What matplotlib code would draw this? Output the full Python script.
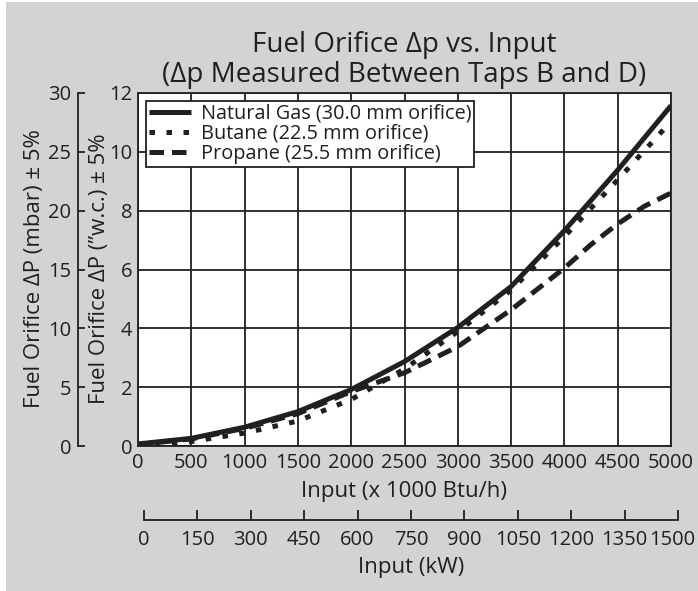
import matplotlib
matplotlib.use("Agg")
import matplotlib.pyplot as plt
from matplotlib.patches import Rectangle
from matplotlib.transforms import ScaledTranslation

# ---- data ----
input_kbtu = [0, 500, 1000, 1500, 2000, 2500, 3000, 3500, 4000, 4500, 5000]
natural_gas = [0.07, 0.26, 0.64, 1.17, 1.92, 2.87, 4.03, 5.42, 7.32, 9.38, 11.57]
butane = [0.02, 0.15, 0.44, 0.85, 1.58, 2.62, 3.89, 5.30, 7.12, 9.05, 11.03]
propane_x = [0, 500, 1000, 1500, 2000, 2500, 3000, 3500, 4000, 4250, 4500, 4750, 5000]
propane = [0.05, 0.24, 0.60, 1.10, 1.85, 2.49, 3.38, 4.63, 6.05, 6.85, 7.55, 8.15, 8.60]

series_labels = ["Natural Gas (30.0 mm orifice)", "Butane (22.5 mm orifice)",
                 "Propane (25.5 mm orifice)"]
x_ticks = list(range(0, 5001, 500))
y_ticks = list(range(0, 13, 2))
mbar_ticks = list(range(0, 31, 5))
kw_ticks = list(range(0, 1501, 150))

title = "Fuel Orifice \u0394p vs. Input\n(\u0394p Measured Between Taps B and D)"
ylabel_in = "Fuel Orifice \u0394P (\u201dw.c.) \u00b1 5%"
ylabel_mbar = "Fuel Orifice \u0394P (mbar) \u00b1 5%"
xlabel_btu = "Input (x 1000 Btu/h)"
xlabel_kw = "Input (kW)"

# ---- style ----
plt.rcParams['font.family'] = ['Open Sans', 'DejaVu Sans']
ink = "#231f20"
bg = "#d1d3d4"
W, H = 698, 591
TICK = 14.5
LAB = 16
fig = plt.figure(figsize=(W / 100, H / 100), dpi=100)
fig.patch.set_facecolor("white")
fig.add_artist(Rectangle((6 / W, 0), 1, 1 - 2 / H, transform=fig.transFigure,
                         facecolor=bg, edgecolor="none", zorder=-10))

def fx(px):
    return px / W

def fy(py):
    return 1 - py / H

L, R, T, B = 138, 671, 93, 446
ax = fig.add_axes([fx(L), fy(B), fx(R - L), (B - T) / H])
ax.set_facecolor("white")
ax.set_xlim(0, 5000)
ax.set_ylim(0, 12)
ax.set_xticks(x_ticks)
ax.set_yticks(y_ticks)
ax.grid(True, color=ink, linewidth=1.3)
ax.set_axisbelow(True)
for s in ax.spines.values():
    s.set_color(ink)
    s.set_linewidth(1.3)
ax.tick_params(length=0, labelsize=TICK, colors=ink, pad=4)
ax.tick_params(axis='x', pad=5)

lw = 3.6
ax.plot(input_kbtu, natural_gas, color=ink, lw=lw, solid_capstyle='butt',
        label=series_labels[0], zorder=3)
ax.plot(input_kbtu, butane, color=ink, lw=lw, linestyle=(0, (1.1, 2.3)),
        dash_capstyle='butt', label=series_labels[1], zorder=3)
ax.plot(propane_x, propane, color=ink, lw=lw, linestyle=(0, (2.9, 1.6)),
        dash_capstyle='butt', label=series_labels[2], zorder=3)

leg = ax.legend(loc='upper left', bbox_to_anchor=(0.0, 1.0), fontsize=14.3,
                frameon=True, fancybox=False, borderpad=0.15, labelspacing=0.0,
                handlelength=2.1, handletextpad=0.5, borderaxespad=0.4)
leg.get_frame().set_edgecolor(ink)
leg.get_frame().set_linewidth(1.3)
leg.get_frame().set_alpha(1)
for t in leg.get_texts():
    t.set_color(ink)

fig.text(fx(404), fy(60), title, fontsize=20, color=ink, ha='center', va='center',
         linespacing=1.05)
fig.text(fx(100), fy(269), ylabel_in, fontsize=LAB, color=ink, rotation=90,
         ha='center', va='center')
fig.text(fx(35), fy(269), ylabel_mbar, fontsize=LAB, color=ink, rotation=90,
         ha='center', va='center')
fig.text(fx(404), fy(492), xlabel_btu, fontsize=LAB, color=ink, ha='center', va='center')
fig.text(fx(411), fy(567), xlabel_kw, fontsize=LAB, color=ink, ha='center', va='center')

# mbar axis on the left
sec = ax.secondary_yaxis(-(L - 78) / (R - L),
                         functions=(lambda v: v * 2.5, lambda v: v / 2.5))
sec.set_yticks(mbar_ticks)
sec.tick_params(direction='in', length=5, width=1.3, colors=ink, labelsize=TICK, pad=5)
sec.spines['left'].set_color(ink)
sec.spines['left'].set_linewidth(1.3)

# kW axis at the bottom
axk = fig.add_axes([fx(144), fy(520), fx(678 - 144), 0.001])
axk.set_xlim(0, 1500)
axk.set_yticks([])
axk.set_xticks(kw_ticks)
axk.patch.set_alpha(0)
for k in ['top', 'left', 'right']:
    axk.spines[k].set_visible(False)
axk.spines['bottom'].set_color(ink)
axk.spines['bottom'].set_linewidth(1.3)
axk.tick_params(axis='x', direction='in', length=7, width=1.3, colors=ink,
                labelsize=TICK, pad=7)
# keep the last kW label inside the figure
last = axk.get_xticklabels()[-1]
last.set_transform(last.get_transform() + ScaledTranslation(-6 / 100, 0, fig.dpi_scale_trans))

fig.savefig("out.png", dpi=100, facecolor=fig.get_facecolor())
